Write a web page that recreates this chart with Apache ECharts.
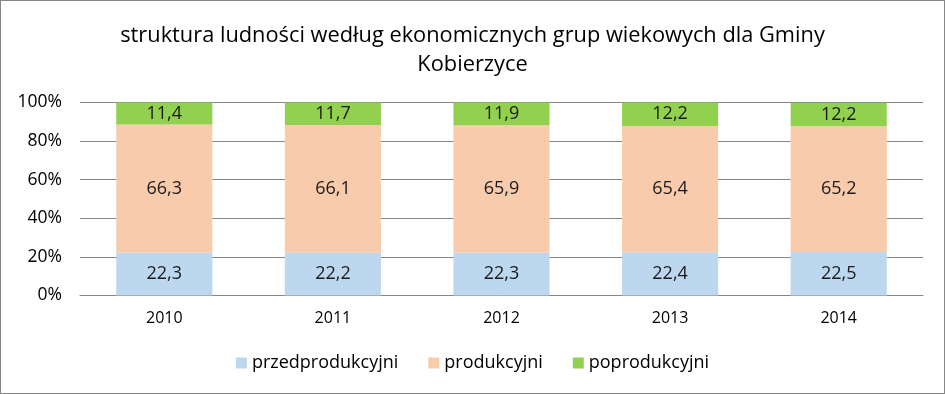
<!DOCTYPE html>
<html><head><meta charset="utf-8">
<script src="https://cdn.jsdelivr.net/npm/echarts@6/dist/echarts.min.js"></script>
<style>
html,body{margin:0;padding:0;background:#fff;}
#c{width:943px;height:392px;border:1px solid #868686;}
</style></head>
<body><div id="c"></div>
<script>
const categories = ['2010','2011','2012','2013','2014'];
const przed = [22.3, 22.2, 22.3, 22.4, 22.5];
const prod = [66.3, 66.1, 65.9, 65.4, 65.2];
const poprod = [11.4, 11.7, 11.9, 12.2, 12.2];
const seriesNames = ['przedprodukcyjni','produkcyjni','poprodukcyjni'];
const colors = ['#BDD7EE','#F8CBAD','#92D050'];
const font = 'Open Sans';
const chart = echarts.init(document.getElementById('c'));
const lbl = {show:true, position:'inside', color:'#1a1a1a', fontSize:18, fontFamily:font,
  formatter: p => String(p.value).replace('.', ',')};
chart.setOption({
  animation:false,
  title:{text:'struktura ludności według ekonomicznych grup wiekowych dla Gminy\nKobierzyce',
    left:'center', top:15, textStyle:{fontFamily:font, fontSize:21.8, fontWeight:'normal', color:'#000', lineHeight:29}},
  legend:{top:348, left:'center', itemWidth:11, itemHeight:11, itemGap:30, icon:'rect',
    textStyle:{fontFamily:font, fontSize:18, color:'#000'}, data:seriesNames},
  grid:{left:79, right:21, top:101.5, bottom:97.5, containLabel:false},
  xAxis:{type:'category', data:categories, axisTick:{show:false},
    axisLine:{lineStyle:{color:'#868686'}},
    axisLabel:{fontFamily:font, fontSize:16, color:'#000', margin:15}},
  yAxis:{type:'value', min:0, max:100, interval:20,
    axisLabel:{formatter:'{value}%', fontFamily:font, fontSize:17.5, color:'#000', margin:18}},
  series:[
    {name:seriesNames[0], type:'bar', stack:'a', data:przed, barWidth:'57%', itemStyle:{color:colors[0]}, label:lbl},
    {name:seriesNames[1], type:'bar', stack:'a', data:prod, itemStyle:{color:colors[1]}, label:lbl},
    {name:seriesNames[2], type:'bar', stack:'a', data:poprod, itemStyle:{color:colors[2]}, label:lbl}
  ]
});
chart.setOption({yAxis:{splitLine:{lineStyle:{color:'#868686'}}, axisLine:{show:false}, axisTick:{show:false}}});
</script></body></html>
